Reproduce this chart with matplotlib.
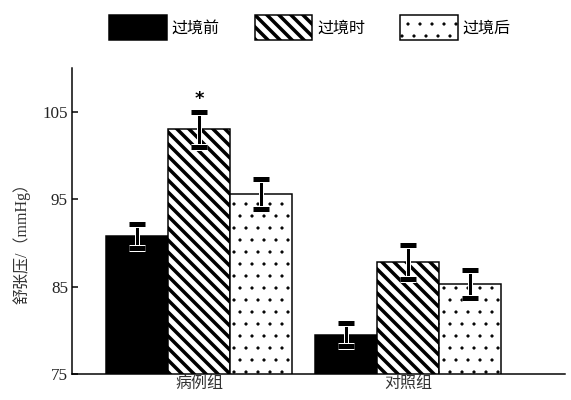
import matplotlib.pyplot as plt
import matplotlib.patheffects as pe
import numpy as np

groups = ["病例组", "对照组"]
stages = ["过境前", "过境时", "过境后"]
means = [[90.8, 79.5], [103.0, 87.8], [95.6, 85.3]]
errs = [[1.4, 1.3], [2.0, 1.9], [1.7, 1.6]]
yticks = [75, 85, 95, 105]

fills = ["black", "white", "white"]
hatches = [None, "\\\\", "."]
hatch_widths = [1.0, 3.5, 0.7]

plt.rcParams["font.family"] = ["Liberation Serif", "Noto Sans CJK SC"]

fig = plt.figure(figsize=(571 / 72, 400 / 72), dpi=72)
ax = fig.add_axes([0.126, 0.065, 0.863, 0.765])

x = np.arange(len(groups))
w = 0.297
bars = []
for i in range(3):
    with plt.rc_context({"hatch.linewidth": hatch_widths[i]}):
        b = ax.bar(x + (i - 1) * w, means[i], w, bottom=0, color=fills[i],
                   edgecolor="black", linewidth=1.5, hatch=hatches[i],
                   label=stages[i], zorder=2)
    bars.append(b)
    eb = ax.errorbar(x + (i - 1) * w, means[i], yerr=errs[i], fmt="none",
                     ecolor="black", elinewidth=3, capsize=8, capthick=5,
                     zorder=3)
    for ln in eb.lines[1]:
        ln.set_path_effects([pe.Stroke(linewidth=7, foreground="white"), pe.Normal()])
    for ln in eb.lines[2]:
        ln.set_path_effects([pe.Stroke(linewidth=5, foreground="white"), pe.Normal()])

# significance mark over the case group during the transit period
ax.text(x[0], means[1][0] + errs[1][0] + 1.4, "*", ha="center", va="center",
        fontsize=18, fontweight="bold", family="DejaVu Sans")

ax.set_ylim(75, 110)
ax.set_xlim(-0.61, 1.749)
ax.set_yticks(yticks)
ax.set_xticks(x)
ax.set_xticklabels(groups, fontsize=16, color="#333333")
ax.tick_params(axis="x", length=0, pad=2)
ax.tick_params(axis="y", direction="in", length=6, width=1.5, labelsize=17, pad=4,
               labelcolor="#222222")
ax.spines["top"].set_visible(False)
ax.spines["right"].set_visible(False)
for s in ["left", "bottom"]:
    ax.spines[s].set_linewidth(1.5)

ax.set_ylabel("舒张压/（mmHg）", fontsize=16, color="#333333")
ax.yaxis.set_label_coords(-0.085, 0.44)

leg = fig.legend(handles=bars, labels=stages, loc="center", bbox_to_anchor=(0.543, 0.932),
                 ncol=3, frameon=False, handlelength=3.6, handleheight=2.0,
                 handletextpad=0.3, columnspacing=2.2,
                 prop={"family": ["Noto Sans CJK SC"], "size": 16})
for h, hw in zip(leg.legend_handles, hatch_widths):
    if hasattr(h, "set_hatch_linewidth"):
        h.set_hatch_linewidth(hw)

fig.savefig("out.png", dpi=72)
